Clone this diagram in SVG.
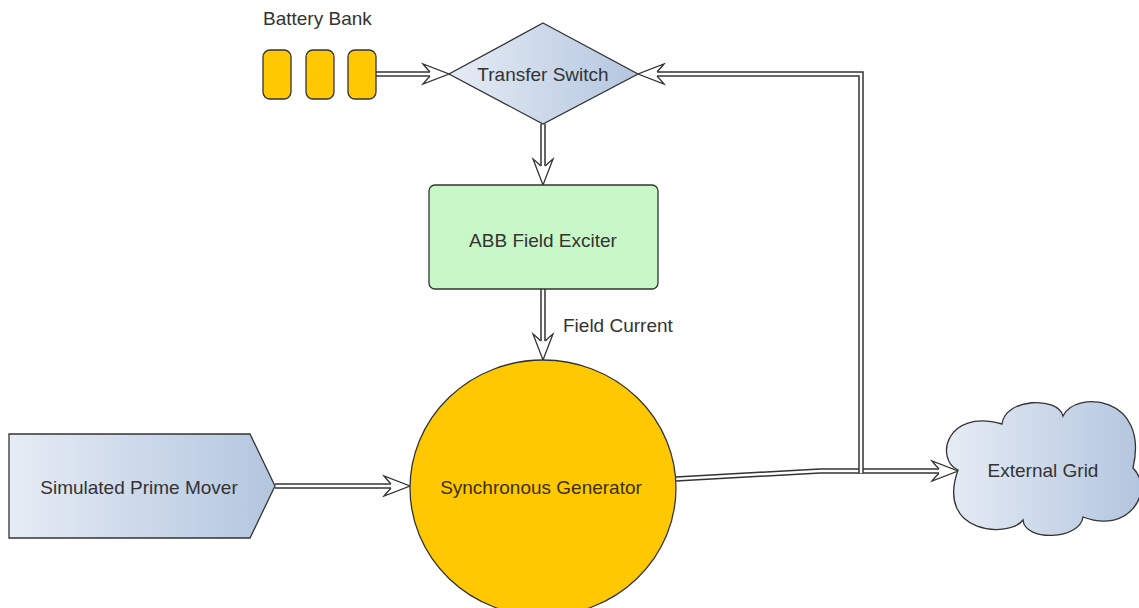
<svg xmlns="http://www.w3.org/2000/svg" width="1139" height="608" viewBox="0 0 1139 608">
  <style>
    .lbl { font-family: "Liberation Sans", Arial, sans-serif; font-size: 19px; fill: #333; }
    .mid { text-anchor: middle; }
    .shape { stroke: #333; stroke-width: 1.3; }
    .wire-o { fill: none; stroke: #333; stroke-width: 5.5; stroke-linejoin: miter; }
    .wire-i { fill: none; stroke: #fff; stroke-width: 2.5; stroke-linejoin: miter; marker-end: url(#ah); }
  </style>
  <defs>
    <linearGradient id="blueGrad" x1="0" y1="0" x2="1" y2="0">
      <stop offset="0" stop-color="#e6ecf5"/>
      <stop offset="1" stop-color="#b3c6df"/>
    </linearGradient>
    <marker id="ah" markerUnits="userSpaceOnUse" viewBox="-28 -12 31 24" refX="-19" refY="0" markerWidth="31" markerHeight="24" orient="auto" overflow="visible">
      <path d="M -19 -2.2 Q -22 -5 -26 -10 L 0 0 L -26 10 Q -22 5 -19 2.2" fill="#fff" stroke="#333" stroke-width="1.3" stroke-linejoin="miter"/>
    </marker>
  </defs>
  <rect width="1139" height="608" fill="#fff"/>

  <g id="connectors">
    <g id="c-battery-switch">
      <path class="wire-o" d="M 376 74 L 430 74"/>
      <path class="wire-i" d="M 376 74 L 430 74"/>
    </g>
    <g id="c-switch-exciter">
      <path class="wire-o" d="M 543 124 L 543 166"/>
      <path class="wire-i" d="M 543 124 L 543 166"/>
    </g>
    <g id="c-exciter-generator">
      <path class="wire-o" d="M 543 289 L 543 341"/>
      <path class="wire-i" d="M 543 289 L 543 341"/>
    </g>
    <g id="c-primemover-generator">
      <path class="wire-o" d="M 275 486 L 391 486"/>
      <path class="wire-i" d="M 275 486 L 391 486"/>
    </g>
    <g id="c-generator-grid">
      <path class="wire-o" d="M 676 479 L 820 471 L 939 471"/>
      <path class="wire-i" d="M 676 479 L 820 471 L 939 471"/>
    </g>
    <g id="c-grid-switch">
      <path class="wire-o" d="M 861 473 L 861 74 L 657 74"/>
      <path class="wire-i" d="M 861 473 L 861 74 L 657 74"/>
    </g>
  </g>

  <g id="battery-bank">
    <rect class="shape" x="263" y="50" width="28" height="49" rx="7" fill="#ffc800"/>
    <rect class="shape" x="306" y="50" width="28" height="49" rx="7" fill="#ffc800"/>
    <rect class="shape" x="348" y="50" width="28" height="49" rx="7" fill="#ffc800"/>
    <text class="lbl" x="263" y="25">Battery Bank</text>
  </g>

  <g id="transfer-switch">
    <polygon class="shape" points="543,23 638,74 543,124 449,74" fill="url(#blueGrad)"/>
    <text class="lbl mid" x="543" y="81">Transfer Switch</text>
  </g>

  <g id="field-exciter">
    <rect class="shape" x="429" y="185" width="229" height="104" rx="6" fill="#c8f7c8"/>
    <text class="lbl mid" x="543" y="247">ABB Field Exciter</text>
  </g>

  <g id="field-current-label">
    <text class="lbl" x="563" y="332">Field Current</text>
  </g>

  <g id="synchronous-generator">
    <ellipse class="shape" cx="543" cy="488" rx="133" ry="128" fill="#ffc800"/>
    <text class="lbl mid" x="541" y="494" style="fill:#3a3000">Synchronous Generator</text>
  </g>

  <g id="prime-mover">
    <polygon class="shape" points="9,434 250,434 275,486 250,538 9,538" fill="url(#blueGrad)"/>
    <text class="lbl mid" x="139" y="494">Simulated Prime Mover</text>
  </g>

  <g id="external-grid">
    <path class="shape" fill="url(#blueGrad)" d="M 958 470 C 935 460, 945 408, 1002 424 C 1005 398, 1058 396, 1063 416 C 1075 390, 1150 395, 1133 468 C 1155 490, 1130 535, 1083 517 C 1080 540, 1025 542, 1023 520 C 1010 538, 935 535, 958 470 Z"/>
    <text class="lbl mid" x="1043" y="477">External Grid</text>
  </g>
</svg>
